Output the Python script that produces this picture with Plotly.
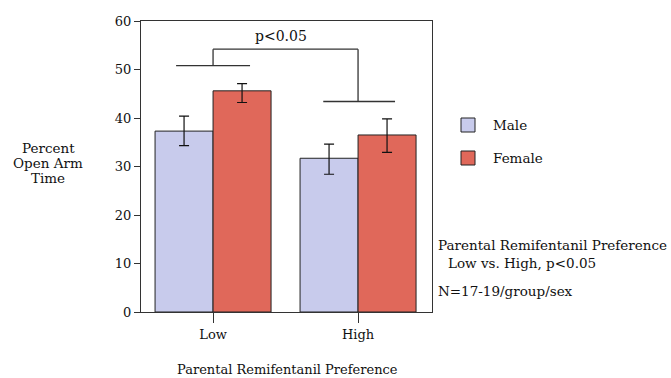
import plotly.graph_objects as go

categories = ["Low", "High"]
series_names = ["Male", "Female"]
male_values = [37.3, 31.7]
female_values = [45.6, 36.5]
male_err_plus = [3.1, 2.9]
male_err_minus = [3.0, 3.3]
female_err_plus = [1.5, 3.3]
female_err_minus = [2.4, 3.6]
y_ticks = [0, 10, 20, 30, 40, 50, 60]
y_title_lines = ["Percent", "Open Arm", "Time"]
colors = ["#C8CBEC", "#E0685A"]

FONT = "DejaVu Serif"
x_pos = list(range(len(categories)))

fig = go.Figure()
for name, vals, ep, em, col in [
    (series_names[0], male_values, male_err_plus, male_err_minus, colors[0]),
    (series_names[1], female_values, female_err_plus, female_err_minus, colors[1]),
]:
    fig.add_trace(go.Bar(
        x=x_pos, y=vals, name=name,
        marker=dict(color=col, line=dict(color="#222222", width=1)),
        error_y=dict(type="data", symmetric=False, array=ep, arrayminus=em,
                     color="#111111", thickness=1.2, width=5),
        showlegend=False,
    ))

L, R, T, B = 141, 239, 21, 66
W, H = 671, 378
pw, ph = W - L - R, H - T - B

def px_x(px):
    return (px - L) / pw

def px_y(py):
    return (H - B - py) / ph

shapes = []
line = dict(color="#333333", width=1.3)
shapes.append(dict(type="line", xref="x", yref="y", x0=-0.255, x1=0.255, y0=50.8, y1=50.8, line=line))
shapes.append(dict(type="line", xref="x", yref="y", x0=0, x1=0, y0=50.8, y1=54.2, line=line))
shapes.append(dict(type="line", xref="x", yref="y", x0=0, x1=1, y0=54.2, y1=54.2, line=line))
shapes.append(dict(type="line", xref="x", yref="y", x0=1, x1=1, y0=54.2, y1=43.4, line=line))
shapes.append(dict(type="line", xref="x", yref="y", x0=0.76, x1=1.255, y0=43.4, y1=43.4, line=line))

annotations = [
    dict(text="p<0.05", xref="x", yref="y", x=0.47, y=56.9, showarrow=False,
         font=dict(family=FONT, size=14, color="#111111")),
    dict(text="Parental Remifentanil Preference", xref="paper", yref="paper", x=px_x(287), y=px_y(369),
         showarrow=False, xanchor="center", yanchor="middle",
         font=dict(family=FONT, size=13, color="#111111")),
    dict(text="Parental Remifentanil Preference", xref="paper", yref="paper", x=px_x(436), y=px_y(245),
         showarrow=False, xanchor="left", yanchor="middle",
         font=dict(family=FONT, size=13.5, color="#111111")),
    dict(text="Low vs. High, p<0.05", xref="paper", yref="paper", x=px_x(446), y=px_y(263),
         showarrow=False, xanchor="left", yanchor="middle",
         font=dict(family=FONT, size=13.5, color="#111111")),
    dict(text="N=17-19/group/sex", xref="paper", yref="paper", x=px_x(436), y=px_y(291),
         showarrow=False, xanchor="left", yanchor="middle",
         font=dict(family=FONT, size=13.5, color="#111111")),
]
for txt, cy in zip(y_title_lines, [148, 163, 178]):
    annotations.append(dict(text=txt, xref="paper", yref="paper", x=px_x(48), y=px_y(cy),
                            showarrow=False, xanchor="center", yanchor="middle",
                            font=dict(family=FONT, size=13.5, color="#111111")))

legend_rows = [125, 158]
for name, col, cy in zip(series_names, colors, legend_rows):
    shapes.append(dict(type="rect", xref="paper", yref="paper",
                       x0=px_x(461), x1=px_x(475), y0=px_y(cy - 7), y1=px_y(cy + 7),
                       fillcolor=col, line=dict(color="#222222", width=1)))
    annotations.append(dict(text=name, xref="paper", yref="paper", x=px_x(491), y=px_y(cy),
                            showarrow=False, xanchor="left", yanchor="middle",
                            font=dict(family=FONT, size=13.5, color="#111111")))

fig.update_layout(
    width=W, height=H,
    margin=dict(l=L, r=R, t=T, b=B, pad=0),
    paper_bgcolor="white", plot_bgcolor="white",
    barmode="group", bargap=0.2, bargroupgap=0,
    font=dict(family=FONT, size=13, color="#111111"),
    shapes=shapes, annotations=annotations,
    xaxis=dict(range=[-0.497, 1.51], tickvals=x_pos, ticktext=categories,
               showgrid=False, zeroline=False, showline=True, linecolor="#333333", linewidth=1.3,
               mirror=True, ticks="outside", ticklen=10, tickcolor="#333333", tickwidth=1.3,
               tickfont=dict(family=FONT, size=13, color="#111111")),
    yaxis=dict(range=[0, 60], tickvals=y_ticks, showgrid=False, zeroline=False,
               showline=True, linecolor="#333333", linewidth=1.3, mirror=True,
               ticks="outside", ticklen=6, tickcolor="#333333", tickwidth=1.3,
               tickfont=dict(family=FONT, size=13, color="#111111")),
)

fig.write_html("out.html")
